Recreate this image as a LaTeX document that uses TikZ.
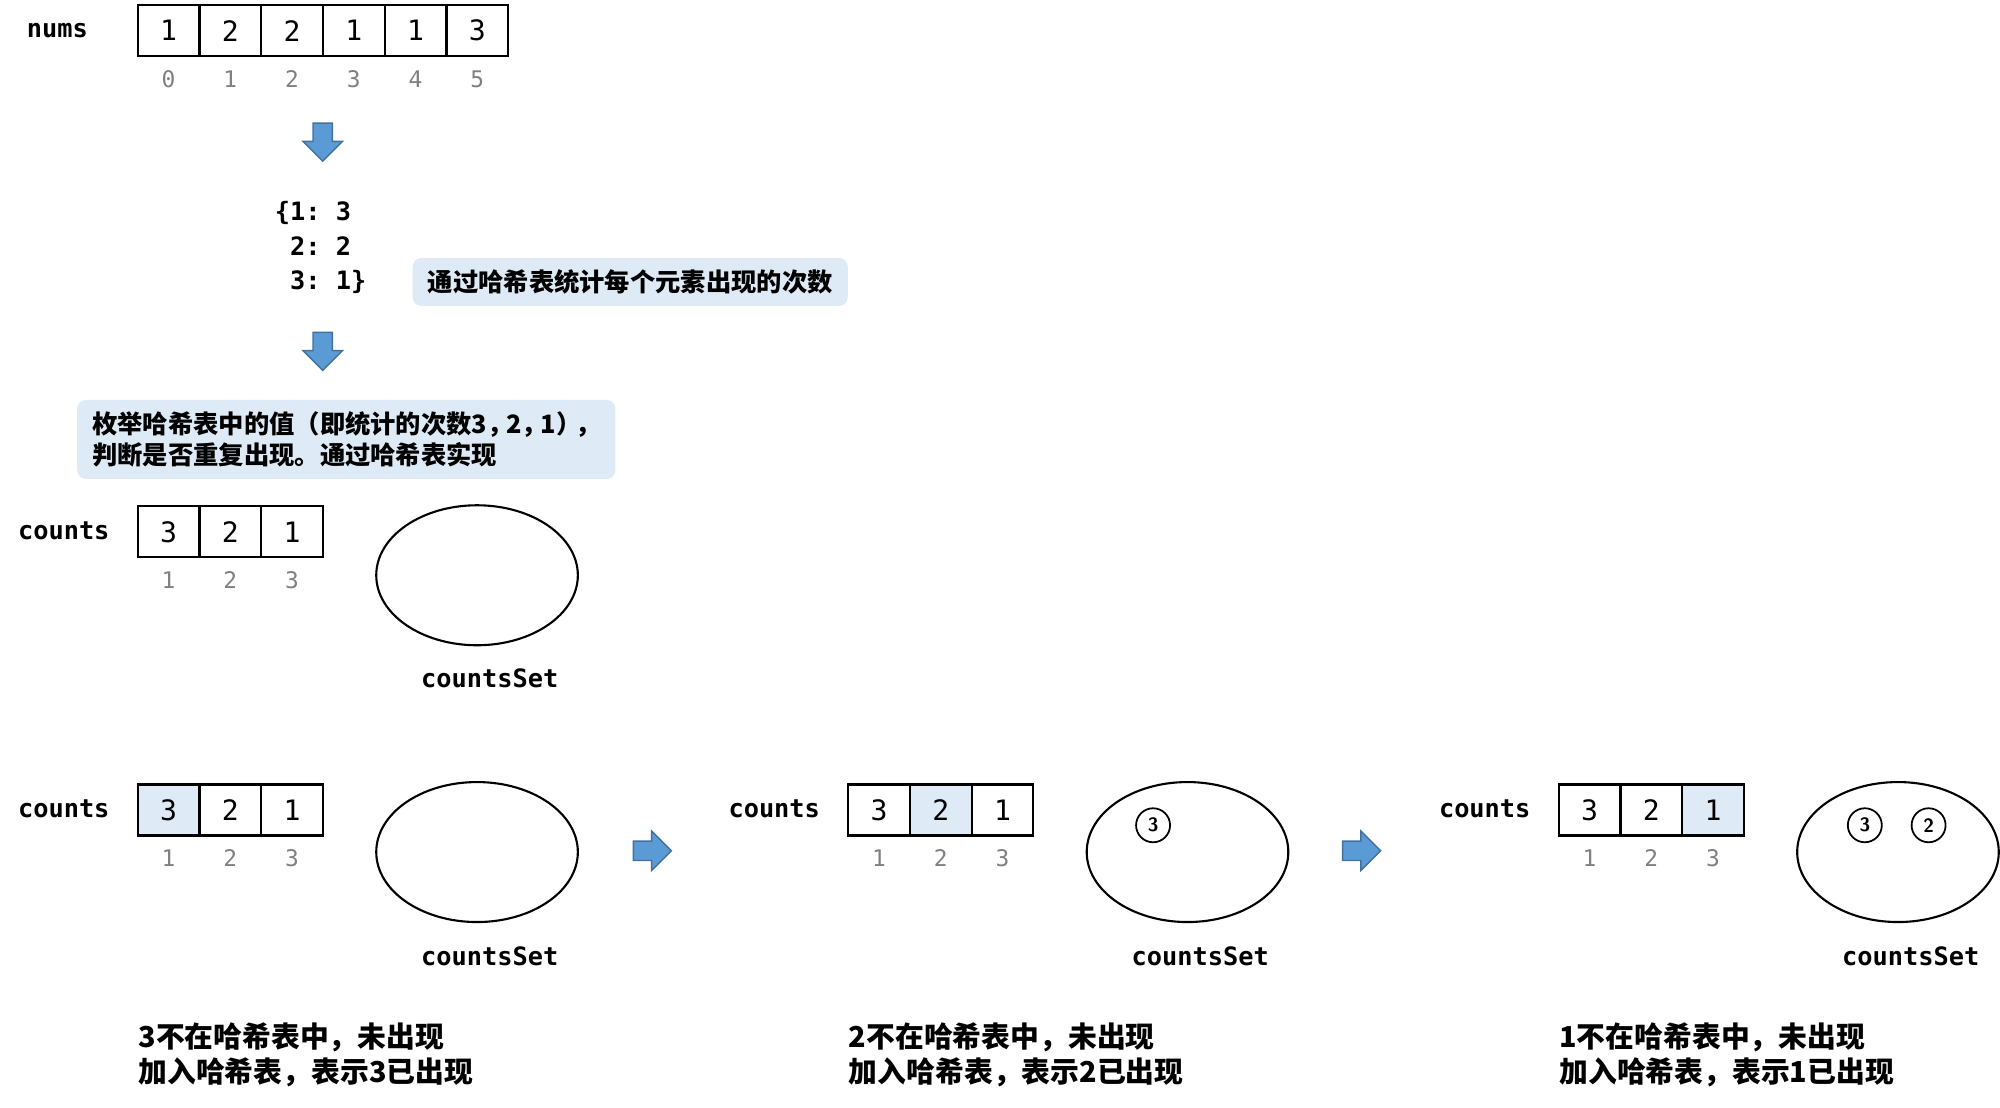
\documentclass[tikz,border=0pt]{standalone}
\usepackage{fontspec}
\setmonofont{DejaVu Sans Mono}
\newfontfamily\cjk{Noto Sans CJK SC}
\usepackage{tikz}
\usetikzlibrary{positioning, shapes.geometric, shapes.arrows}
\definecolor{cellblue}{HTML}{DEEBF7}
\definecolor{arrowfill}{HTML}{5B9BD5}
\definecolor{arrowline}{HTML}{41719C}
\definecolor{idxgray}{HTML}{808080}
\tikzset{
  cell/.style={draw, line width=0.6pt, minimum width=0.617cm, minimum height=0.51cm,
    inner sep=0pt, font=\ttfamily\fontsize{8}{9}\selectfont},
  idx/.style={text=idxgray, inner sep=0pt, font=\ttfamily\fontsize{6.5}{8}\selectfont},
  lbl/.style={inner sep=0pt, font=\ttfamily\bfseries\fontsize{7.2}{9.8}\selectfont},
  note/.style={fill=cellblue, rounded corners=2.5pt, align=left, inner xsep=4.3pt,
    font=\cjk\bfseries\fontsize{7.2}{8.7}\selectfont},
  blockarrow/.style={single arrow, fill=arrowfill, draw=arrowline, line width=0.4pt,
    minimum width=0.38cm, minimum height=0.38cm, single arrow head extend=0.1cm,
    inner xsep=0pt, inner ysep=0.09cm, anchor=tail},
  hashset/.style={ellipse, draw, line width=0.6pt, minimum width=2.016cm, minimum height=1.40cm},
  elem/.style={circle, draw, line width=0.5pt, minimum size=0.34cm, inner sep=0pt,
    font=\sffamily\bfseries\fontsize{5.5}{6}\selectfont},
  steptext/.style={inner sep=0pt, align=left, font=\cjk\bfseries\fontsize{8.2}{10.1}\selectfont}
}

\begin{document}
\begin{tikzpicture}[x=0.012755cm, y=-0.012755cm]
        \useasboundingbox (0,0) rectangle (1568,868);
        % input array
        \node[lbl] (numslbl) at (45,24) {nums};
        \foreach \v [count=\i from 0] in {1,2,2,1,1,3} {
        \node[cell] (n\i) at ({108+48.4*(\i+0.5)},24) {\v};
        \node[idx] (ni\i) at ({108+48.4*(\i+0.5)},62) {\i};
        }
        % first step down
        \node[blockarrow, rotate=-90] (down1) at (253,96) {};
        \node[lbl, align=left, anchor=west] (dict) at (215,194)
               {\{1: 3\\\phantom{\{}2: 2\\\phantom{\{}3: 1\}};
        \node[note, anchor=west, minimum height=0.46cm] (hashnote) at (323,221)
               {通过哈希表统计每个元素出现的次数};
        % second step down
        \node[blockarrow, rotate=-90] (down2) at (253,260) {};
        \node[note, anchor=north west, minimum height=0.79cm] (setnote) at (60,313)
               {枚举哈希表中的值（即统计的次数3，\kern-.25em2，\kern-.25em1）\kern-.25em，\\判断是否重复出现。通过哈希表实现};
        % counts and empty set
        \node[lbl] (countslbl) at (50,416) {counts};
        \foreach \v [count=\i] in {3,2,1} {
        \node[cell] (c\i) at ({108+48.4*(\i-0.5)},417) {\v};
        \node[idx] (ci\i) at ({108+48.4*(\i-0.5)},455) {\i};
        }
        \node[hashset] (set0) at (374,451) {};
        \node[lbl] (setlbl0) at (384,532) {countsSet};
        % three steps of the loop
        \foreach \dx/\fa/\fb/\fc/\v [count=\p] in
        {0/cellblue/white/white/3, 557/white/cellblue/white/2, 1114/white/white/cellblue/1} {
        \node[lbl] (countslbl\p) at (50+\dx,634) {counts};
        \foreach \w/\f [count=\i] in {3/\fa,2/\fb,1/\fc} {
        \node[cell, fill=\f] (c\p-\i) at ({108+48.4*(\i-0.5)+\dx},635) {\w};
        \node[idx] (ci\p-\i) at ({108+48.4*(\i-0.5)+\dx},673) {\i};
        }
        \node[hashset] (set\p) at (374+\dx,668) {};
        \node[lbl] (setlbl\p) at (384+\dx,750) {countsSet};
        \node[steptext, anchor=west] (step\p) at (108+\dx,827)
               {\v 不在哈希表中，未出现\\加入哈希表，表示\v 已出现};
        }
        % elements already in the set
        \node[elem] (s2a) at (904,647) {3};
        \node[elem] (s3a) at (1462,647) {3};
        \node[elem] (s3b) at (1512,647) {2};
        % arrows between steps
        \node[blockarrow] (go1) at (496,667) {};
        \node[blockarrow] (go2) at (1052,667) {};
    \end{tikzpicture}
\end{document}
